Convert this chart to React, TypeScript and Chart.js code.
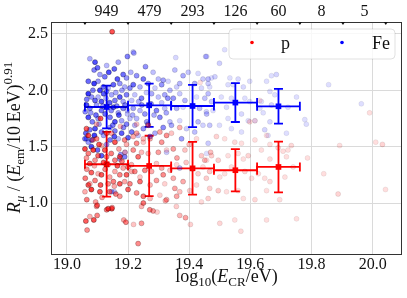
import { useEffect, useRef } from "react";
import { Chart, registerables } from "chart.js";

Chart.register(...registerables);

const FAMILY = "'Liberation Serif', 'Times New Roman', serif";

// axis ticks
const xTicks = [19.0, 19.2, 19.4, 19.6, 19.8, 20.0];
const yTicks = [1.0, 1.5, 2.0, 2.5];

// energy bins (top axis) and event counts per bin
const binEdges = [19.059, 19.2, 19.341, 19.481, 19.622, 19.762, 19.903, 20.043];
const binCounts = [949, 479, 293, 126, 60, 8, 5];

// profile (mean +- std) per bin
const meanLogE = [19.13, 19.269, 19.411, 19.551, 19.692];
const pMean = [1.344, 1.329, 1.308, 1.291, 1.32];
const pStd = [0.287, 0.268, 0.234, 0.188, 0.225];
const feMean = [1.852, 1.867, 1.861, 1.891, 1.858];
const feStd = [0.19, 0.192, 0.188, 0.172, 0.154];

// individual events [log10(E/eV), R_mu]
const pEvents: [number, number][] = [
  [19.148, 2.52], [19.066, 0.76], [19.062, 0.84], [19.075, 0.88], [19.088, 0.85], [19.099, 0.89], [19.097, 0.97],
  [19.13, 0.94], [19.147, 0.95], [19.186, 0.85], [19.193, 0.83], [19.218, 0.81],
  [19.059, 1.48], [19.07, 1.44], [19.064, 1.4], [19.075, 1.35], [19.086, 1.47], [19.092, 1.38], [19.102, 1.42],
  [19.113, 1.51], [19.124, 1.47], [19.13, 1.41], [19.135, 1.34], [19.157, 1.38], [19.173, 1.41], [19.184, 1.31], [19.2, 1.32],
  [19.102, 1.26], [19.113, 1.25], [19.092, 1.2], [19.157, 1.28], [19.173, 1.25], [19.195, 1.25], [19.212, 1.28],
  [19.07, 1.16], [19.075, 1.17], [19.11, 1.16], [19.135, 1.17], [19.155, 1.15], [19.152, 1.19], [19.173, 1.17],
  [19.189, 1.19], [19.206, 1.17], [19.059, 1.1], [19.108, 1.1], [19.173, 1.06], [19.094, 1.01], [19.099, 0.98],
  [19.135, 0.95], [19.148, 0.96], [19.064, 1.66], [19.097, 1.7], [19.07, 1.6], [19.097, 1.57], [19.146, 1.62],
  [19.189, 1.56], [19.157, 1.54], [19.065, 1.3], [19.08, 1.27], [19.09, 1.33], [19.12, 1.36], [19.125, 1.3],
  [19.14, 1.23], [19.145, 1.44], [19.165, 1.33], [19.17, 1.48], [19.18, 1.37], [19.19, 1.45], [19.105, 1.52],
  [19.06, 1.22], [19.115, 1.05], [19.16, 1.08], [19.2, 1.12], [19.085, 1.56], [19.13, 1.62], [19.175, 1.68],
  [19.11, 1.75], [19.065, 1.03], [19.195, 1.52], [19.14, 1.1], [19.08, 1.12],
  [19.217, 1.59], [19.228, 1.53], [19.25, 1.54], [19.31, 1.54], [19.272, 1.57], [19.244, 1.45], [19.217, 1.47],
  [19.233, 1.41], [19.266, 1.44], [19.299, 1.45], [19.326, 1.47], [19.348, 1.48], [19.386, 1.47], [19.424, 1.57],
  [19.44, 1.42], [19.451, 1.38], [19.211, 1.34], [19.222, 1.28], [19.239, 1.23], [19.255, 1.29], [19.277, 1.28],
  [19.293, 1.35], [19.31, 1.31], [19.315, 1.25], [19.337, 1.29], [19.348, 1.22], [19.359, 1.34], [19.38, 1.19],
  [19.429, 1.26], [19.445, 1.32], [19.456, 1.22], [19.239, 1.19], [19.272, 1.16], [19.293, 1.2], [19.32, 1.17],
  [19.353, 1.13], [19.369, 1.1], [19.424, 1.16], [19.228, 1.09], [19.25, 1.06], [19.272, 1.04], [19.326, 1.03],
  [19.304, 1.07], [19.359, 1.06], [19.402, 1.11], [19.44, 1.01], [19.244, 0.82], [19.25, 1.0], [19.244, 0.97],
  [19.282, 0.93], [19.295, 0.92], [19.271, 0.94], [19.322, 1.02], [19.358, 0.97], [19.369, 0.89], [19.388, 0.87],
  [19.404, 0.81], [19.233, 0.64], [19.228, 1.7], [19.266, 1.69], [19.228, 1.62], [19.25, 1.57], [19.304, 1.63],
  [19.326, 1.6], [19.342, 1.62], [19.369, 1.67], [19.436, 2.07], [19.36, 1.4], [19.39, 1.36], [19.41, 1.3],
  [19.4, 1.52], [19.47, 1.45],
  [19.99, 1.8], [19.489, 1.59], [19.516, 1.57], [19.549, 1.54], [19.571, 1.53], [19.615, 1.56], [19.653, 1.6],
  [19.691, 1.49], [19.664, 1.52], [19.707, 1.46], [19.723, 1.47], [19.734, 1.51], [19.787, 1.4], [19.892, 1.51],
  [20.01, 1.54], [20.032, 1.52], [19.84, 1.26], [19.473, 1.42], [19.457, 1.38], [19.495, 1.38], [19.527, 1.42],
  [19.56, 1.44], [19.577, 1.39], [19.593, 1.42], [19.636, 1.47], [19.664, 1.39], [19.718, 1.41], [19.467, 1.28],
  [19.5, 1.23], [19.516, 1.26], [19.538, 1.32], [19.582, 1.28], [19.604, 1.22], [19.626, 1.26], [19.647, 1.22],
  [19.664, 1.19], [19.713, 1.23], [19.74, 1.32], [19.467, 1.13], [19.495, 1.11], [19.522, 1.1], [19.56, 1.11],
  [19.577, 1.04], [19.615, 1.03], [19.653, 1.11], [19.696, 1.03], [19.462, 1.04], [19.887, 1.08], [20.042, 1.12],
  [19.5, 0.82], [19.549, 0.85], [19.569, 0.75], [19.653, 0.85], [19.751, 0.86], [19.631, 1.91], [19.598, 1.72],
  [19.615, 1.73],
];

const feEvents: [number, number][] = [
  [19.075, 2.28], [19.092, 2.25], [19.089, 2.18], [19.108, 2.14], [19.124, 2.12], [19.137, 2.16], [19.168, 2.25],
  [19.198, 2.3], [19.217, 2.34], [19.184, 2.14], [19.195, 2.11], [19.209, 2.16], [19.07, 2.08], [19.089, 2.06],
  [19.102, 2.08], [19.119, 2.03], [19.135, 2.02], [19.152, 2.05], [19.173, 2.06], [19.189, 2.03], [19.206, 2.02],
  [19.07, 1.97], [19.081, 1.94], [19.092, 1.91], [19.102, 1.94], [19.113, 1.9], [19.13, 1.99], [19.146, 1.96],
  [19.157, 1.91], [19.173, 1.94], [19.184, 1.9], [19.195, 1.96], [19.212, 1.91], [19.064, 1.87], [19.075, 1.84],
  [19.097, 1.87], [19.113, 1.82], [19.152, 1.85], [19.168, 1.8], [19.184, 1.84], [19.198, 1.79], [19.07, 1.76],
  [19.083, 1.72], [19.102, 1.75], [19.141, 1.76], [19.157, 1.72], [19.179, 1.73], [19.195, 1.7], [19.206, 1.75],
  [19.092, 1.66], [19.113, 1.63], [19.141, 1.67], [19.157, 1.64], [19.179, 1.62], [19.064, 1.57], [19.081, 1.56],
  [19.168, 1.57], [19.212, 1.63], [19.059, 1.57], [19.07, 1.54], [19.141, 1.56], [19.155, 1.59], [19.173, 1.39],
  [19.189, 1.41], [19.155, 1.1], [19.113, 1.42], [19.176, 1.43], [19.146, 1.1], [19.062, 1.62], [19.09, 1.6],
  [19.13, 1.52], [19.1, 1.47], [19.19, 1.45], [19.08, 1.5], [19.065, 1.92], [19.078, 1.8], [19.095, 1.78],
  [19.108, 2.0], [19.118, 1.86], [19.125, 1.79], [19.128, 1.93], [19.14, 1.89], [19.145, 1.82], [19.16, 1.98],
  [19.163, 1.86], [19.17, 1.78], [19.18, 2.0], [19.19, 1.87], [19.198, 1.82], [19.12, 1.97], [19.085, 2.0],
  [19.105, 1.7], [19.15, 1.69], [19.165, 2.1], [19.06, 1.81], [19.1, 2.2], [19.13, 2.22], [19.155, 2.19],
  [19.075, 1.65], [19.12, 1.6], [19.185, 1.67], [19.2, 1.58],
  [19.219, 2.33], [19.257, 2.21], [19.356, 2.29], [19.454, 2.3], [19.353, 2.18], [19.282, 2.16], [19.228, 2.13],
  [19.25, 2.1], [19.299, 2.1], [19.315, 2.09], [19.331, 2.08], [19.38, 2.13], [19.397, 2.16], [19.429, 2.15],
  [19.445, 2.1], [19.217, 2.05], [19.239, 2.03], [19.266, 2.06], [19.288, 2.02], [19.31, 2.05], [19.337, 2.0],
  [19.359, 2.03], [19.369, 2.06], [19.418, 2.06], [19.44, 2.02], [19.462, 2.06], [19.222, 1.96], [19.244, 1.93],
  [19.277, 1.97], [19.299, 1.94], [19.32, 1.96], [19.348, 1.93], [19.369, 1.97], [19.386, 1.91], [19.424, 1.94],
  [19.451, 1.93], [19.217, 1.84], [19.239, 1.82], [19.255, 1.79], [19.293, 1.82], [19.32, 1.84], [19.359, 1.84],
  [19.38, 1.85], [19.434, 1.84], [19.456, 1.81], [19.228, 1.75], [19.261, 1.72], [19.304, 1.76], [19.337, 1.72],
  [19.342, 1.69], [19.369, 1.73], [19.429, 1.72], [19.445, 1.69], [19.222, 1.69], [19.25, 1.66], [19.315, 1.67],
  [19.391, 1.66], [19.418, 1.63], [19.233, 1.6], [19.272, 1.59], [19.288, 1.62], [19.326, 1.45], [19.369, 1.31],
  [19.375, 1.57], [19.235, 1.9], [19.245, 1.87], [19.26, 1.98], [19.275, 1.88], [19.285, 1.78], [19.31, 1.89],
  [19.325, 1.8], [19.33, 1.93], [19.215, 1.78], [19.265, 1.7],
  [19.516, 2.36], [19.499, 2.24], [19.457, 2.3], [19.856, 2.05], [19.963, 1.88], [19.462, 2.1], [19.473, 2.11],
  [19.484, 2.12], [19.533, 2.11], [19.56, 2.1], [19.598, 2.08], [19.653, 2.08], [19.669, 2.13], [19.685, 2.14],
  [19.467, 2.03], [19.527, 2.05], [19.544, 2.05], [19.577, 2.03], [19.664, 1.99], [19.68, 1.96], [19.751, 1.94],
  [19.462, 1.97], [19.505, 1.94], [19.538, 1.93], [19.582, 1.93], [19.473, 1.9], [19.598, 1.9], [19.636, 1.9],
  [19.723, 1.85], [19.457, 1.79], [19.478, 1.82], [19.522, 1.85], [19.527, 1.75], [19.571, 1.79], [19.593, 1.73],
  [19.631, 1.84], [19.642, 1.8], [19.669, 1.87], [19.778, 1.74], [19.783, 1.7], [19.718, 1.62], [19.467, 1.69],
  [19.499, 1.69], [19.538, 1.66], [19.571, 1.63], [19.647, 1.65], [19.658, 1.6], [19.462, 1.53], [19.457, 1.44],
  [19.664, 1.72], [19.615, 1.73],
];

const shade = [1, 0.55, 0.8, 0.4, 0.9, 0.65, 0.5, 0.75];
function alphaFor(x: number, i: number) {
  const base = Math.min(0.8, Math.max(0.17, 0.8 - (x - 19.06) * 1.35));
  return Math.max(0.13, base * shade[i % shade.length]);
}

type Seg = { t: string; it?: boolean; s: number; dy?: number };
function segFont(s: Seg) {
  return `${s.it ? "italic " : ""}${s.s}px ${FAMILY}`;
}
function drawRich(ctx: CanvasRenderingContext2D, segs: Seg[], cx: number, y: number) {
  let total = 0;
  for (const s of segs) {
    ctx.font = segFont(s);
    total += ctx.measureText(s.t).width;
  }
  let x = cx - total / 2;
  ctx.textAlign = "left";
  ctx.textBaseline = "alphabetic";
  for (const s of segs) {
    ctx.font = segFont(s);
    ctx.fillText(s.t, x, y + (s.dy || 0));
    x += ctx.measureText(s.t).width;
  }
}

const errInfo: Record<string, { mean: number[]; std: number[]; color: string }> = {
  pMeanSet: { mean: pMean, std: pStd, color: "#ff0000" },
  feMeanSet: { mean: feMean, std: feStd, color: "#0000ff" },
};

const errorBarPlugin = {
  id: "errorBars",
  beforeDatasetDraw(chart: any, args: any) {
    const ds = chart.data.datasets[args.index];
    const info = errInfo[ds.label];
    if (!info) return;
    const ctx = chart.ctx as CanvasRenderingContext2D;
    const xs = chart.scales.x;
    const ys = chart.scales.y;
    const cap = 4.5;
    ctx.save();
    ctx.strokeStyle = info.color;
    ctx.lineWidth = 1.8;
    for (let i = 0; i < info.mean.length; i++) {
      const cx = xs.getPixelForValue(meanLogE[i]);
      const cy = ys.getPixelForValue(info.mean[i]);
      const x0 = xs.getPixelForValue(binEdges[i]);
      const x1 = xs.getPixelForValue(binEdges[i + 1]);
      const yt = ys.getPixelForValue(info.mean[i] + info.std[i]);
      const yb = ys.getPixelForValue(info.mean[i] - info.std[i]);
      ctx.beginPath();
      ctx.moveTo(x0, cy); ctx.lineTo(x1, cy);
      ctx.moveTo(x0, cy - cap); ctx.lineTo(x0, cy + cap);
      ctx.moveTo(x1, cy - cap); ctx.lineTo(x1, cy + cap);
      ctx.moveTo(cx, yt); ctx.lineTo(cx, yb);
      ctx.moveTo(cx - cap, yt); ctx.lineTo(cx + cap, yt);
      ctx.moveTo(cx - cap, yb); ctx.lineTo(cx + cap, yb);
      ctx.stroke();
    }
    ctx.restore();
  },
};

const decorPlugin = {
  id: "decor",
  afterDatasetsDraw(chart: any) {
    const ctx = chart.ctx as CanvasRenderingContext2D;
    const a = chart.chartArea;
    const lx = a.right - 173;
    const ly = a.top + 7;
    const lw = 166;
    const lh = 30;
    ctx.save();
    ctx.beginPath();
    (ctx as any).roundRect(lx, ly, lw, lh, 4);
    ctx.fillStyle = "rgba(255,255,255,0.8)";
    ctx.fill();
    ctx.strokeStyle = "rgba(0,0,0,0.12)";
    ctx.lineWidth = 1;
    ctx.stroke();
    const items = [
      { c: "#ff0000", t: "p", dx: 23, tx: 52 },
      { c: "#0000ff", t: "Fe", dx: 113, tx: 143 },
    ];
    for (const it of items) {
      ctx.beginPath();
      ctx.arc(lx + it.dx, ly + 13.5, 1.8, 0, Math.PI * 2);
      ctx.fillStyle = it.c;
      ctx.fill();
      ctx.fillStyle = "#111";
      ctx.font = `18px ${FAMILY}`;
      ctx.textAlign = "left";
      ctx.textBaseline = "alphabetic";
      ctx.fillText(it.t, lx + it.tx, ly + 19.5);
    }
    ctx.restore();
  },
  afterDraw(chart: any) {
    const ctx = chart.ctx as CanvasRenderingContext2D;
    const a = chart.chartArea;
    const xs = chart.scales.x;
    ctx.save();
    ctx.strokeStyle = "#333";
    ctx.lineWidth = 1;
    ctx.strokeRect(Math.round(a.left) + 0.5, Math.round(a.top) + 0.5, Math.round(a.right - a.left) - 1, Math.round(a.bottom - a.top) - 1);
    ctx.fillStyle = "#111";
    for (const e of binEdges) {
      const px = xs.getPixelForValue(e);
      ctx.beginPath();
      ctx.moveTo(px - 2, a.top);
      ctx.lineTo(px + 2, a.top);
      ctx.lineTo(px, a.top + 3);
      ctx.closePath();
      ctx.fill();
    }
    ctx.font = `16px ${FAMILY}`;
    ctx.textAlign = "center";
    ctx.textBaseline = "alphabetic";
    for (let i = 0; i < binCounts.length; i++) {
      const px = xs.getPixelForValue((binEdges[i] + binEdges[i + 1]) / 2);
      ctx.fillText(String(binCounts[i]), px, a.top - 6);
    }
    drawRich(
      ctx,
      [
        { t: "log", s: 18 },
        { t: "10", s: 13, dy: 4 },
        { t: "(", s: 18 },
        { t: "E", s: 18, it: true },
        { t: "CR", s: 13, dy: 4 },
        { t: "/eV)", s: 18 },
      ],
      (a.left + a.right) / 2,
      a.bottom + 27
    );
    ctx.translate(a.left - 31, (a.top + a.bottom) / 2 - 1);
    ctx.rotate(-Math.PI / 2);
    drawRich(
      ctx,
      [
        { t: "R", s: 18, it: true },
        { t: "μ", s: 13, it: true, dy: 4 },
        { t: " / (", s: 18 },
        { t: "E", s: 18, it: true },
        { t: "em", s: 13, dy: 4 },
        { t: "/10\u2009EeV)", s: 18 },
        { t: "0.91", s: 13, dy: -8 },
      ],
      0,
      0
    );
    ctx.restore();
  },
};

export default function App() {
  const ref = useRef<HTMLCanvasElement | null>(null);
  useEffect(() => {
    if (!ref.current) return;
    const pColors = pEvents.map(([x], i) => alphaFor(x, i));
    const feColors = feEvents.map(([x], i) => alphaFor(x, i + 3));
    const chart = new Chart(ref.current, {
      type: "scatter",
      data: {
        datasets: [
          {
            label: "p",
            data: pEvents.map(([x, y]) => ({ x, y })),
            backgroundColor: pColors.map((a) => `rgba(255,0,0,${a})`),
            borderColor: pColors.map((a) => `rgba(40,0,0,${a * 0.8})`),
            borderWidth: 0.7,
            pointRadius: 2.5,
          },
          {
            label: "Fe",
            data: feEvents.map(([x, y]) => ({ x, y })),
            backgroundColor: feColors.map((a) => `rgba(0,0,255,${a})`),
            borderColor: feColors.map((a) => `rgba(0,0,40,${a * 0.8})`),
            borderWidth: 0.7,
            pointRadius: 2.5,
          },
          {
            label: "pMeanSet",
            data: meanLogE.map((x, i) => ({ x, y: pMean[i] })),
            backgroundColor: "#ff0000",
            borderColor: "#ff0000",
            borderWidth: 0,
            pointStyle: "rect",
            pointRadius: 4,
          },
          {
            label: "feMeanSet",
            data: meanLogE.map((x, i) => ({ x, y: feMean[i] })),
            backgroundColor: "#0000ff",
            borderColor: "#0000ff",
            borderWidth: 0,
            pointStyle: "rect",
            pointRadius: 4,
          },
        ],
      },
      options: {
        animation: false,
        responsive: true,
        maintainAspectRatio: false,
        devicePixelRatio: 1,
        layout: { padding: { top: 22, right: 5, left: 0, bottom: 0 } },
        plugins: { legend: { display: false }, tooltip: { enabled: false }, title: { display: false } },
        scales: {
          x: {
            type: "linear",
            min: 18.948,
            max: 20.096,
            afterBuildTicks: (s: any) => {
              s.ticks = xTicks.map((v) => ({ value: v }));
            },
            afterFit: (s: any) => {
              s.height = 43;
            },
            ticks: {
              callback: (v: any) => Number(v).toFixed(1),
              font: { family: FAMILY, size: 16 },
              color: "#111",
              padding: 0,
              maxRotation: 0,
              autoSkip: false,
            },
            grid: { color: "#dadada", lineWidth: 1, drawTicks: false },
            border: { display: false },
          },
          y: {
            type: "linear",
            min: 0.539,
            max: 2.606,
            afterBuildTicks: (s: any) => {
              s.ticks = yTicks.map((v) => ({ value: v }));
            },
            afterFit: (s: any) => {
              s.width = 51;
            },
            ticks: {
              callback: (v: any) => Number(v).toFixed(1),
              font: { family: FAMILY, size: 16 },
              color: "#111",
              padding: 3,
              autoSkip: false,
            },
            grid: { color: "#dadada", lineWidth: 1, drawTicks: false },
            border: { display: false },
          },
        },
      },
      plugins: [errorBarPlugin, decorPlugin],
    } as any);
    return () => chart.destroy();
  }, []);
  return (
    <div style={{ position: "absolute", left: 0, top: 0, width: 407, height: 298, background: "#fff" }}>
      <canvas ref={ref} />
    </div>
  );
}
